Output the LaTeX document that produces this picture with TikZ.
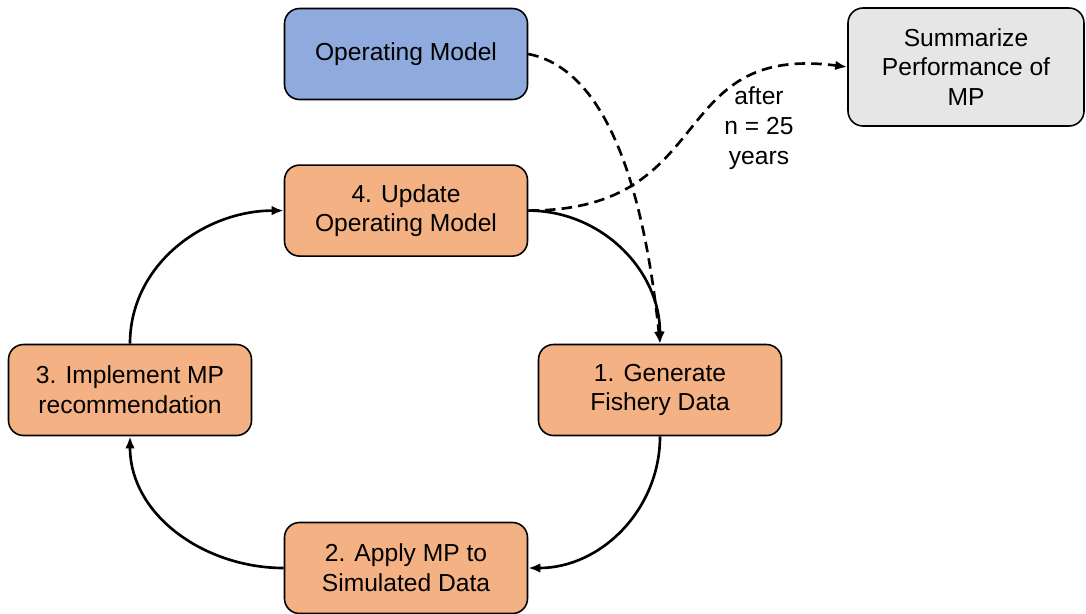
\documentclass[tikz,border=0pt]{standalone}
\usepackage{fontspec}
\setmainfont{Liberation Sans}
\usetikzlibrary{positioning,arrows.meta}
\definecolor{omblue}{HTML}{8FAADC}
\definecolor{steporange}{HTML}{F4B183}
\definecolor{sumgrey}{HTML}{E7E6E6}

\begin{document}
\begin{tikzpicture}[>={Latex[length=2.4mm,width=1.9mm]},line width=1.5pt,
  main box/.style={rectangle,rounded corners=0.3cm,draw,line width=0.9pt,minimum width=4.86cm,minimum height=1.82cm,align=center,font=\fontsize{14}{17}\selectfont},
  loop arrow/.style={->,black},
  dash arrow/.style={->,black,dash pattern=on 6pt off 3.5pt}]
\useasboundingbox (0,0) rectangle (21.72,-12.26);
% nodes
  \node[main box,fill=omblue] (om) at (8.12,-1.08) {Operating Model};
  \node[main box,fill=steporange] (upd) [below = 1.28cm of om] {4. Update\\Operating Model};
  \node[main box,fill=steporange] (gen) at (13.20,-7.80) {1. Generate\\Fishery Data};
  \node[main box,fill=steporange] (impl) at (2.60,-7.80) {3. Implement MP\\recommendation};
  \node[main box,fill=steporange] (apply) at (8.12,-11.36) {2. Apply MP to\\Simulated Data};
  \node[main box,fill=sumgrey,minimum width=4.72cm,minimum height=2.36cm] (summ) at (19.32,-1.34) {Summarize\\Performance of\\MP};
  \node[align=center,font=\fontsize{14}{17}\selectfont] (after) at (15.18,-2.56) {after\\n = 25\\years};
  % edges
  \draw[loop arrow] (upd.east) to[out=0,in=90] (gen.north);
  \draw[loop arrow] (gen.south) to[out=-90,in=0] (apply.east);
  \draw[loop arrow] (apply.west) to[out=180,in=-90] (impl.south);
  \draw[loop arrow] (impl.north) to[out=90,in=180] (upd.west);
  \draw[dash arrow] (om.east) .. controls +(1.64,-0.32) and +(-0.30,2.90) .. (gen.north);
  \draw[dash arrow] (upd.east) .. controls +(3.84,0) and +(-3.66,0.48) .. (summ.west);
\end{tikzpicture}
\end{document}
